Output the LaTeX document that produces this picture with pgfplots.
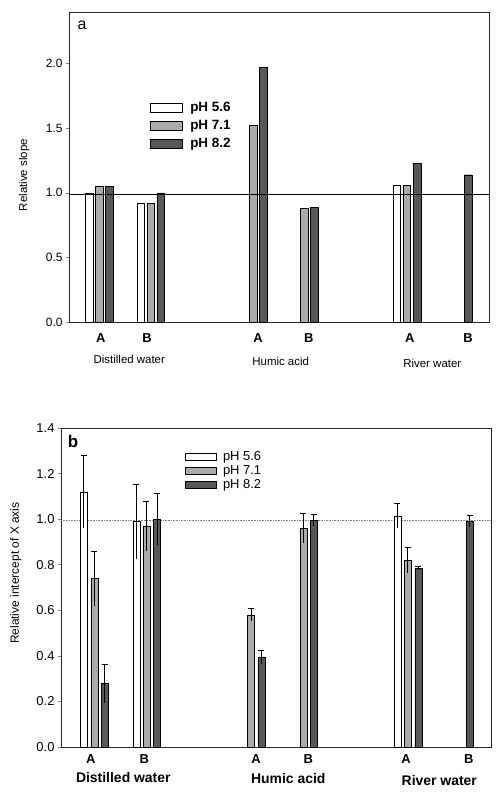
\documentclass[border=0pt]{standalone}
\usepackage{pgfplots}
\pgfplotsset{compat=1.18}
\usepackage{fontspec}
\setmainfont{Liberation Sans}
\definecolor{lgray}{HTML}{ABABAB}
\definecolor{dgray}{HTML}{585858}
\pgfplotsset{
  common/.style={
    scale only axis, clip=false, anchor=south west,
    /pgf/number format/assume math mode=true,
    /pgf/number format/fixed, /pgf/number format/fixed zerofill,
    /pgf/number format/precision=1,
    ytick pos=left, tick align=outside, major tick length=3bp,
    xtick style={draw=none},
    axis line style={line width=0.6pt, black!85},
    ytick style={line width=0.5pt},
    legend cell align=left,
  },
  barA/.style={ybar, bar shift=0pt, bar width=7.5, draw=black, line width=0.4pt},
  barB/.style={ybar, bar shift=0pt, bar width=7, draw=black, line width=0.4pt},
  capped/.style={error bars/.cd, y dir=plus, y explicit, error mark=|,
    error mark options={mark size=3bp, line width=0.6pt, black, solid},
    error bar style={line width=0.6pt, black}},
}
\begin{document}
\begin{tikzpicture}
\useasboundingbox (0,0) rectangle (499bp,792bp);
% ---------------- panel a ----------------
\begin{axis}[common,
  at={(69bp,470bp)}, width=420bp, height=310bp,
  xmin=0, xmax=420, ymin=0, ymax=2.4,
  ytick={0,0.5,1,1.5,2},
  yticklabel style={font=\fontsize{12}{14}\selectfont},
  xtick={31.7,78,189,239.7,340.7,399},
  xticklabels={A,B,A,B,A,B},
  xticklabel style={font=\fontsize{13}{15}\selectfont\bfseries, yshift=-5bp},
  ylabel={Relative slope},
  ylabel style={font=\fontsize{11.5}{13}\selectfont, at={(axis description cs:-0.107,0.474)}, anchor=center, rotate=0},
  legend style={at={(axis description cs:0.193,0.712)}, anchor=north west, draw=none, fill=none,
    font=\fontsize{13.5}{15}\selectfont\bfseries, inner sep=0pt, row sep=6.5bp,
    nodes={inner sep=0.5bp},
    /tikz/every odd column/.append style={column sep=7bp}},
  legend image code/.code={\draw[#1,draw=black,line width=0.5pt] (0bp,-4.5bp) rectangle (32bp,4.5bp);},
]
\addplot[barA, fill=white] coordinates {(20,1.0) (71.7,0.92) (327.7,1.06)};
\addlegendentry{pH 5.6}
\addplot[barA, fill=lgray] coordinates {(30.3,1.05) (81.7,0.92) (184.3,1.525) (235.3,0.88) (337.7,1.06)};
\addlegendentry{pH 7.1}
\addplot[barA, fill=dgray] coordinates {(40.3,1.05) (91.7,1.0) (194.3,1.97) (245.3,0.885) (348,1.23) (399.3,1.14)};
\addlegendentry{pH 8.2}
\addplot[forget plot, black, line width=0.6pt] coordinates {(0,0.99) (420,0.99)};
\node[font=\fontsize{16}{18}\selectfont] at (axis cs:13,2.30) {a};
\node[font=\fontsize{11.5}{13}\selectfont] at (axis cs:60.3,-0.286) {Distilled water};
\node[font=\fontsize{11.5}{13}\selectfont] at (axis cs:211.7,-0.302) {Humic acid};
\node[font=\fontsize{11.5}{13}\selectfont] at (axis cs:363.3,-0.317) {River water};
\end{axis}
% ---------------- panel b ----------------
\begin{axis}[common,
  at={(61bp,45bp)}, width=430bp, height=319bp,
  xmin=0, xmax=430, ymin=0, ymax=1.4,
  ytick={0,0.2,0.4,0.6,0.8,1.0,1.2,1.4},
  yticklabel style={font=\fontsize{13}{15}\selectfont},
  xtick={29.7,83.3,195,247.3,345,407.7},
  xticklabels={A,B,A,B,A,B},
  xticklabel style={font=\fontsize{13}{15}\selectfont\bfseries, yshift=-1bp},
  ylabel={Relative intercept of X axis},
  ylabel style={font=\fontsize{12}{14}\selectfont, at={(axis description cs:-0.105,0.545)}, anchor=center, rotate=0},
  legend style={at={(axis description cs:0.288,0.929)}, anchor=north west, draw=none, fill=none,
    font=\fontsize{13}{15}\selectfont, inner sep=0pt, row sep=2.5bp,
    nodes={inner sep=0.5bp},
    /tikz/every odd column/.append style={column sep=6bp}},
  legend image code/.code={\draw[#1,draw=black,line width=0.5pt] (0bp,-3.8bp) rectangle (31bp,3.8bp);},
]
\addplot[forget plot, densely dotted, gray, line width=0.6pt] coordinates {(0,0.995) (430,0.995)};
\addplot[barB, fill=white, capped]
  table[x=x, y=y, y error=e] {
x y e
22.7 1.12 0.16
75.3 0.99 0.165
336.3 1.015 0.055
};
\addlegendentry{pH 5.6}
\addplot[barB, fill=lgray, capped]
  table[x=x, y=y, y error=e] {
x y e
33.3 0.74 0.12
85.3 0.97 0.11
190 0.58 0.027
242.3 0.96 0.065
346.7 0.82 0.057
};
\addlegendentry{pH 7.1}
\addplot[barB, fill=dgray, capped]
  table[x=x, y=y, y error=e] {
x y e
43.7 0.28 0.085
96 1.0 0.115
200.3 0.395 0.03
252.7 0.995 0.027
357.3 0.785 0.01
408.7 0.99 0.025
};
\addlegendentry{pH 8.2}
% lower halves of the error bars (no cap)
\addplot[forget plot, draw=none, mark=none, error bars/.cd, y dir=minus, y explicit, error mark=none,
  error bar style={draw=black, line width=0.6pt}]
  table[x=x, y=y, y error=e] {
x y e
22.7 1.12 0.16
75.3 0.99 0.165
336.3 1.015 0.055
33.3 0.74 0.12
85.3 0.97 0.11
190 0.58 0.027
242.3 0.96 0.065
346.7 0.82 0.057
43.7 0.28 0.085
96 1.0 0.115
200.3 0.395 0.03
252.7 0.995 0.027
357.3 0.785 0.01
408.7 0.99 0.025
};
\node[font=\fontsize{17}{19}\selectfont\bfseries] at (axis cs:12,1.339) {b};
\node[font=\fontsize{14}{16}\selectfont\bfseries] at (axis cs:62.3,-0.134) {Distilled water};
\node[font=\fontsize{14}{16}\selectfont\bfseries] at (axis cs:227.3,-0.138) {Humic acid};
\node[font=\fontsize{14}{16}\selectfont\bfseries] at (axis cs:378.3,-0.145) {River water};
\end{axis}
\end{tikzpicture}
\end{document}
